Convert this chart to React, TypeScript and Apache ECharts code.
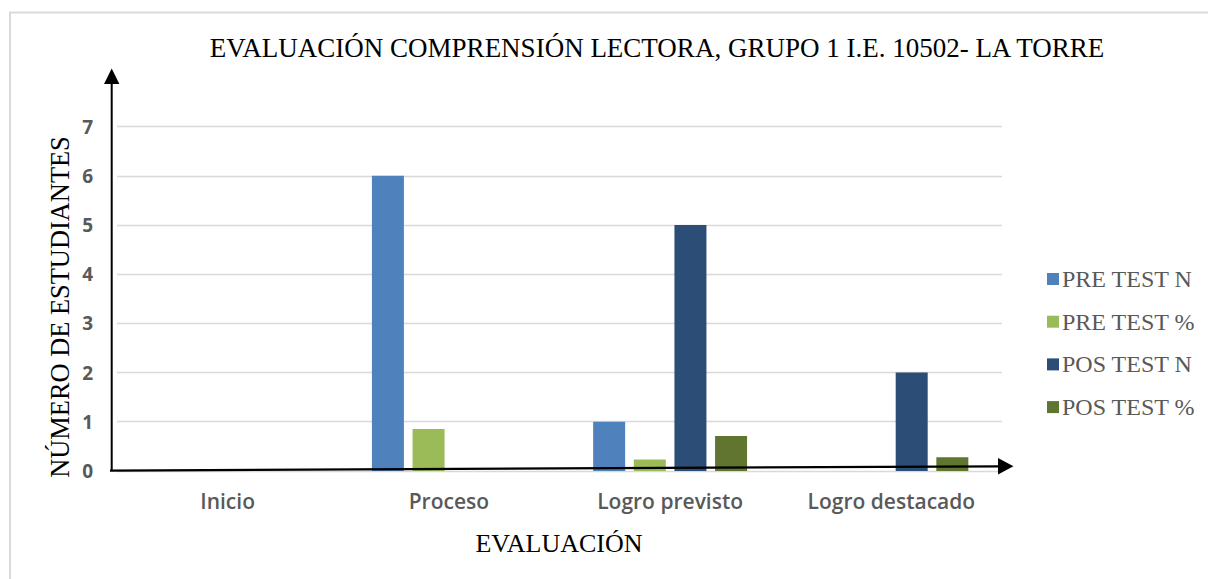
import React, { useEffect, useRef } from "react";
import * as echarts from "echarts";

const categories = ["Inicio", "Proceso", "Logro previsto", "Logro destacado"];
const seriesNames = ["PRE TEST N", "PRE TEST %", "POS TEST N", "POS TEST %"];
const preTestN = [0, 6, 1, 0];
const preTestPct = [0, 0.85, 0.23, 0];
const posTestN = [0, 0, 5, 2];
const posTestPct = [0, 0, 0.71, 0.28];
const yTicks = [0, 1, 2, 3, 4, 5, 6, 7];

const titleText = "EVALUACIÓN COMPRENSIÓN LECTORA, GRUPO 1 I.E. 10502- LA TORRE";
const yName = "NÚMERO DE ESTUDIANTES";
const xName = "EVALUACIÓN";

const colors = ["#4F81BD", "#9BBB59", "#2C4D75", "#5F7530"];

export default function App() {
  const ref = useRef<HTMLDivElement>(null);
  useEffect(() => {
    if (!ref.current) return;
    const chart = echarts.init(ref.current, null, { renderer: "svg" });
    const serif = "'Liberation Serif', 'Times New Roman', serif";
    const values = [preTestN, preTestPct, posTestN, posTestPct];
    chart.setOption({
      animation: false,
      backgroundColor: "#ffffff",
      color: colors,
      grid: { left: 117, right: 206, top: 126.7, bottom: 108.1, containLabel: false },
      legend: {
        orient: "vertical",
        left: 1042,
        top: 262,
        itemWidth: 12,
        itemHeight: 12,
        itemGap: 18.7,
        icon: "rect",
        textStyle: { fontFamily: serif, fontSize: 24, color: "#595959", lineHeight: 24, padding: [0, 0, 0, -2] },
        data: seriesNames,
      },
      xAxis: {
        type: "category",
        data: categories,
        axisLine: { show: false },
        axisTick: { show: false },
        axisLabel: {
          margin: 20,
          fontFamily: "'Open Sans', sans-serif",
          fontWeight: 600,
          fontSize: 21,
          color: "#595959",
        },
      },
      yAxis: {
        type: "value",
        min: yTicks[0],
        max: yTicks[yTicks.length - 1],
        interval: 1,
        axisLine: { show: false },
        axisTick: { show: false },
        splitLine: { lineStyle: { color: "#d9d9d9", width: 1.3 } },
        axisLabel: {
          margin: 24,
          fontFamily: "'Open Sans', sans-serif",
          fontWeight: 700,
          fontSize: 19,
          color: "#595959",
        },
      },
      series: seriesNames.map((name, i) => ({
        name,
        type: "bar",
        data: values[i],
        barWidth: 32,
        barGap: "27%",
        itemStyle: { color: colors[i] },
      })),
      graphic: [
        {
          type: "rect",
          silent: true,
          shape: { x: 10, y: 12.5, width: 1300, height: 700 },
          style: { fill: "none", stroke: "#d9d9d9", lineWidth: 2 },
        },
        {
          type: "text",
          x: 657,
          y: 48,
          style: {
            text: titleText,
            fontFamily: serif,
            fontSize: 27,
            fill: "#000000",
            align: "center",
            verticalAlign: "middle",
          },
        },
        {
          type: "text",
          x: 60,
          y: 307,
          rotation: Math.PI / 2,
          style: {
            text: yName,
            fontFamily: serif,
            fontSize: 26.4,
            fill: "#000000",
            align: "center",
            verticalAlign: "middle",
          },
        },
        {
          type: "text",
          x: 559,
          y: 543,
          style: {
            text: xName,
            fontFamily: serif,
            fontSize: 26,
            fill: "#000000",
            align: "center",
            verticalAlign: "middle",
          },
        },
        {
          type: "line",
          z: 100,
          shape: { x1: 111.7, y1: 471, x2: 111.7, y2: 82 },
          style: { stroke: "#000000", lineWidth: 2 },
        },
        {
          type: "polygon",
          z: 100,
          shape: { points: [[104, 84], [111.7, 68.5], [119.4, 84]] },
          style: { fill: "#000000" },
        },
        {
          type: "line",
          z: 100,
          shape: { x1: 110, y1: 470.6, x2: 1000, y2: 466.3 },
          style: { stroke: "#000000", lineWidth: 2.2 },
        },
        {
          type: "polygon",
          z: 100,
          shape: { points: [[998, 458], [1013.5, 466.2], [998, 474.4]] },
          style: { fill: "#000000" },
        },
      ],
    });
    return () => chart.dispose();
  }, []);
  return (
    <div
      ref={ref}
      style={{ position: "absolute", left: 0, top: 0, width: 1208, height: 579, background: "#fff" }}
    />
  );
}
